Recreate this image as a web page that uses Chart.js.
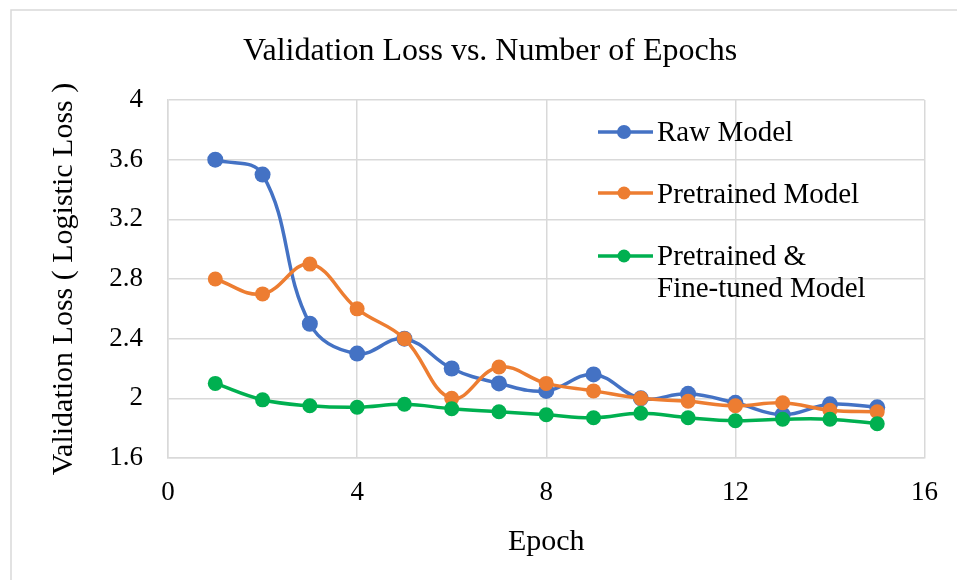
<!DOCTYPE html>
<html>
<head>
<meta charset="utf-8">
<script src="https://cdn.jsdelivr.net/npm/chart.js@4.4.1/dist/chart.umd.min.js"></script>
<style>
  html, body { margin: 0; padding: 0; background: #ffffff; }
  #wrap { position: relative; width: 957px; height: 580px; }
</style>
</head>
<body>
<div id="wrap"><canvas id="c" width="957" height="580"></canvas></div>
<script>
// ---- data ----
const epochs = [1, 2, 3, 4, 5, 6, 7, 8, 9, 10, 11, 12, 13, 14, 15];
const rawModel = [3.6, 3.5, 2.5, 2.3, 2.4, 2.2, 2.1, 2.05, 2.16, 2.0, 2.03, 1.97, 1.89, 1.96, 1.94];
const pretrainedModel = [2.8, 2.7, 2.9, 2.6, 2.4, 2.0, 2.21, 2.1, 2.05, 2.0, 1.98, 1.95, 1.97, 1.92, 1.91];
const fineTunedModel = [2.1, 1.99, 1.95, 1.94, 1.96, 1.93, 1.91, 1.89, 1.87, 1.9, 1.87, 1.85, 1.86, 1.86, 1.83];
const seriesNames = ['Raw Model', 'Pretrained Model', 'Pretrained &\nFine-tuned Model'];
const xTicks = [0, 4, 8, 12, 16];
const yTicks = [1.6, 2, 2.4, 2.8, 3.2, 3.6, 4];
const chartTitle = 'Validation Loss vs. Number of Epochs';
const xTitle = 'Epoch';
const yTitle = 'Validation Loss ( Logistic Loss )';

const colors = ['#4472C4', '#ED7D31', '#00B050'];
const FONT = "'Liberation Serif', 'Times New Roman', serif";

function pts(vals) { return epochs.map((e, i) => ({ x: e, y: vals[i] })); }

const series = [rawModel, pretrainedModel, fineTunedModel];
const datasets = series.map((vals, i) => ({
  label: seriesNames[i],
  data: pts(vals),
  borderColor: colors[i],
  backgroundColor: colors[i],
  borderWidth: 3.5,
  pointRadius: i === 0 ? 8 : 7.5,
  pointBorderWidth: 0,
  pointBackgroundColor: colors[i],
  tension: 0.4,
  order: 3 - i
}));

const frame = {
  id: 'frame',
  beforeDraw(chart) {
    const ctx = chart.ctx;
    ctx.save();
    ctx.fillStyle = '#ffffff';
    ctx.fillRect(0, 0, chart.width, chart.height);
    ctx.strokeStyle = '#d9d9d9';
    ctx.lineWidth = 1.5;
    ctx.strokeRect(11, 10, 1000, 1000);
    ctx.fillStyle = '#000000';
    ctx.font = '32px ' + FONT;
    ctx.textAlign = 'center';
    ctx.textBaseline = 'alphabetic';
    ctx.fillText(chartTitle, 490, 60);
    ctx.restore();
  }
};

const customLegend = {
  id: 'customLegend',
  afterDraw(chart) {
    const ctx = chart.ctx;
    const lineY = [132, 193, 256];
    const baseY = [141, 203, 265];
    ctx.save();
    seriesNames.forEach((name, i) => {
      ctx.strokeStyle = colors[i];
      ctx.lineWidth = 3.5;
      ctx.beginPath();
      ctx.moveTo(598, lineY[i]);
      ctx.lineTo(653, lineY[i]);
      ctx.stroke();
      ctx.fillStyle = colors[i];
      ctx.beginPath();
      ctx.arc(624, lineY[i], i === 0 ? 7 : 6.5, 0, Math.PI * 2);
      ctx.fill();
      ctx.fillStyle = '#000000';
      ctx.font = '29px ' + FONT;
      ctx.textAlign = 'left';
      ctx.textBaseline = 'alphabetic';
      name.split('\n').forEach((line, k) => {
        ctx.fillText(line, 657, baseY[i] + k * 32);
      });
    });
    ctx.restore();
  }
};

new Chart(document.getElementById('c'), {
  type: 'line',
  data: { datasets },
  plugins: [frame, customLegend],
  options: {
    responsive: false,
    animation: false,
    layout: { padding: { left: 0, right: 30, top: 100, bottom: 0 } },
    plugins: {
      legend: { display: false },
      tooltip: { enabled: false },
      title: { display: false }
    },
    scales: {
      x: {
        type: 'linear',
        min: 0, max: 16,
        afterBuildTicks(axis) { axis.ticks = xTicks.map(v => ({ value: v })); },
        afterFit(axis) { axis.height = 122; },
        ticks: {
          color: '#000000',
          font: { family: FONT, size: 27, lineHeight: 1.2 },
          padding: 19,
          maxRotation: 0,
          callback: (v) => String(v)
        },
        grid: { color: '#d9d9d9', lineWidth: 1.5, drawTicks: false },
        border: { color: '#d9d9d9', width: 1.5 },
        title: {
          display: true, text: xTitle, color: '#000000',
          font: { family: FONT, size: 30, lineHeight: 1.2 },
          padding: { top: 0, bottom: 20 }
        }
      },
      y: {
        type: 'linear',
        min: 1.6, max: 4,
        afterBuildTicks(axis) { axis.ticks = yTicks.map(v => ({ value: v })); },
        afterFit(axis) { axis.width = 168; },
        ticks: {
          color: '#000000',
          font: { family: FONT, size: 27, lineHeight: 1.2 },
          padding: 25,
          callback: (v) => String(Math.round(v * 10) / 10)
        },
        grid: { color: '#d9d9d9', lineWidth: 1.5, drawTicks: false },
        border: { color: '#d9d9d9', width: 1.5 },
        title: {
          display: true, text: yTitle, color: '#000000',
          font: { family: FONT, size: 30, lineHeight: 1.2 },
          padding: { top: 46, bottom: 0 }
        }
      }
    }
  }
});
</script>
</body>
</html>
